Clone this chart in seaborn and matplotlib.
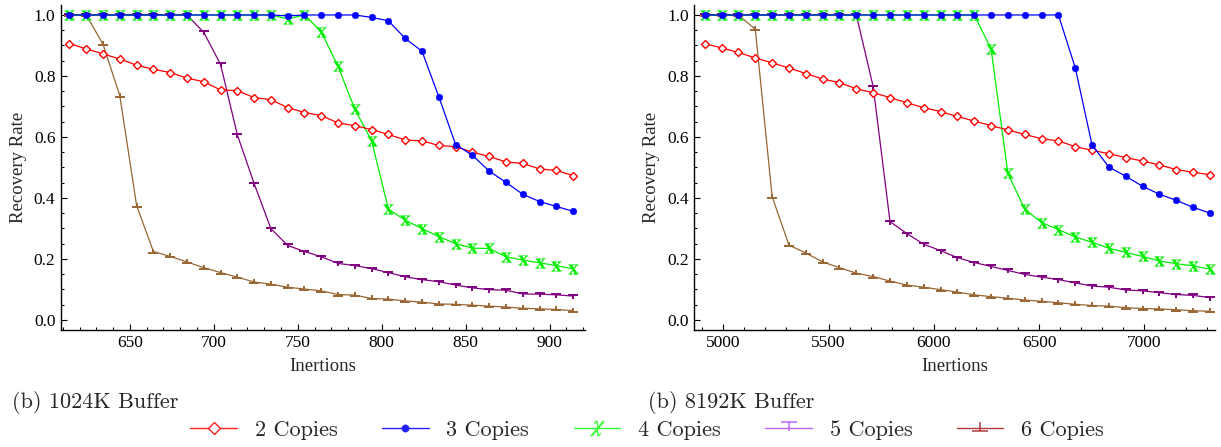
import matplotlib
matplotlib.use("Agg")
import matplotlib.pyplot as plt
from matplotlib.lines import Line2D
from matplotlib.path import Path
from matplotlib.ticker import MultipleLocator
import seaborn as sns

# x grids (insertions) for the two buffer sizes
x_1024 = [614, 624, 634, 644, 654, 664, 674, 684, 694, 704, 714, 724, 734, 744, 754, 764,
          774, 784, 794, 804, 814, 824, 834, 844, 854, 864, 874, 884, 894, 904, 914]
x_8192 = [4912, 4992, 5072, 5152, 5232, 5312, 5392, 5472, 5552, 5632, 5712, 5792, 5872,
          5952, 6032, 6112, 6192, 6272, 6352, 6432, 6512, 6592, 6672, 6752, 6832, 6912,
          6992, 7072, 7152, 7232, 7312]

# recovery rates, 1024K buffer
c2_1024 = [0.906, 0.889, 0.872, 0.856, 0.835, 0.822, 0.811, 0.793, 0.781, 0.754, 0.752,
           0.729, 0.722, 0.696, 0.680, 0.670, 0.646, 0.637, 0.624, 0.608, 0.590, 0.587,
           0.572, 0.568, 0.550, 0.536, 0.518, 0.513, 0.495, 0.490, 0.473]
c3_1024 = [1.0] * 13 + [0.997] + [1.0] * 4 + [0.992, 0.981, 0.923, 0.881, 0.732, 0.575,
                                              0.540, 0.488, 0.451, 0.412, 0.388, 0.372, 0.356]
c4_1024 = [1.0] * 13 + [0.987, 1.0, 0.945, 0.831, 0.691, 0.587, 0.363, 0.327, 0.299, 0.273,
                        0.250, 0.235, 0.234, 0.207, 0.196, 0.187, 0.178, 0.167]
c5_1024 = [1.0] * 8 + [0.943, 0.838, 0.607, 0.447, 0.299, 0.244, 0.224, 0.207, 0.185, 0.178,
                       0.168, 0.155, 0.141, 0.132, 0.125, 0.114, 0.105, 0.099, 0.097, 0.085,
                       0.084, 0.082, 0.078]
c6_1024 = [1.0, 1.0, 0.904, 0.735, 0.375, 0.224, 0.208, 0.190, 0.171, 0.155, 0.140, 0.124,
           0.117, 0.107, 0.101, 0.095, 0.083, 0.081, 0.070, 0.068, 0.062, 0.058, 0.052,
           0.051, 0.048, 0.045, 0.042, 0.038, 0.036, 0.034, 0.030]

# recovery rates, 8192K buffer
c2_8192 = [0.906, 0.892, 0.877, 0.859, 0.843, 0.826, 0.808, 0.790, 0.778, 0.758, 0.745,
           0.729, 0.712, 0.696, 0.683, 0.667, 0.652, 0.637, 0.623, 0.608, 0.594, 0.587,
           0.568, 0.556, 0.545, 0.532, 0.521, 0.508, 0.493, 0.484, 0.476]
c3_8192 = [1.0] * 22 + [0.827, 0.573, 0.501, 0.471, 0.438, 0.412, 0.392, 0.369, 0.350]
c4_8192 = [1.0] * 17 + [0.889, 0.480, 0.363, 0.319, 0.296, 0.272, 0.254, 0.235, 0.221,
                        0.208, 0.193, 0.184, 0.177, 0.166]
c5_8192 = [1.0] * 10 + [0.765, 0.322, 0.283, 0.248, 0.227, 0.204, 0.188, 0.175, 0.162,
                        0.149, 0.140, 0.132, 0.121, 0.111, 0.107, 0.098, 0.095, 0.089,
                        0.083, 0.080, 0.073]
c6_8192 = [1.0, 1.0, 1.0, 0.953, 0.404, 0.245, 0.219, 0.190, 0.171, 0.153, 0.142, 0.127,
           0.114, 0.107, 0.099, 0.091, 0.082, 0.076, 0.071, 0.065, 0.061, 0.056, 0.051,
           0.047, 0.045, 0.040, 0.037, 0.036, 0.033, 0.030, 0.028]

labels = ["2 Copies", "3 Copies", "4 Copies", "5 Copies", "6 Copies"]
captions = ["(b) 1024K Buffer", "(b) 8192K Buffer"]

sns.set_style("ticks")
plt.rcParams["font.family"] = ["Liberation Serif", "DejaVu Serif"]
plt.rcParams["mathtext.fontset"] = "stix"

MOVE, LINE = Path.MOVETO, Path.LINETO


def tee(bar_y, stem_y):
    # bar plus stem, drawn as strokes
    return Path([(-1, bar_y), (1, bar_y), (0, bar_y), (0, stem_y)], [MOVE, LINE, MOVE, LINE])


T_PLOT, BOT_PLOT = tee(0.15, -0.6), tee(-0.15, 0.6)
T_LEG, BOT_LEG = tee(0.85, -0.45), tee(-0.45, 0.85)

# label: (plot colour, legend colour, marker, size, kind)
styles = {
    "6 Copies": ("#996633", "#b03a3a", BOT_PLOT, 7.5, "stroke"),
    "5 Copies": ("#800080", "#b866ff", T_PLOT, 7.5, "stroke"),
    "4 Copies": ("#00ee00", "#33ff33", r"$\mathbf{X}$", 7, "glyph"),
    "2 Copies": ("#ff0000", "#ff2020", "D", 3.6, "hollow"),
    "3 Copies": ("#0000ff", "#2020ff", "o", 4.8, "glyph"),
}


def marker_kw(col, kind):
    if kind == "hollow":
        return dict(markerfacecolor="white", markeredgecolor=col, markeredgewidth=1.0)
    if kind == "stroke":
        return dict(markerfacecolor="none", markeredgecolor=col, markeredgewidth=1.4)
    return dict(markerfacecolor=col, markeredgecolor=col, markeredgewidth=0.3)


def draw_panel(ax, x, series, major, minor, xlim):
    for lab in ["6 Copies", "5 Copies", "4 Copies", "2 Copies", "3 Copies"]:
        col, _, mk, ms, kind = styles[lab]
        sns.lineplot(x=x, y=series[lab], ax=ax, color=col, lw=0.9, marker=mk,
                     markersize=ms, zorder=3, **marker_kw(col, kind))
    ax.set_xlim(*xlim)
    ax.set_ylim(-0.033, 1.033)
    ax.xaxis.set_major_locator(MultipleLocator(major))
    ax.xaxis.set_minor_locator(MultipleLocator(minor))
    ax.yaxis.set_major_locator(MultipleLocator(0.2))
    ax.yaxis.set_minor_locator(MultipleLocator(0.05))
    ax.tick_params(which="both", direction="in", colors="black", labelsize=12.5, width=0.8)
    ax.tick_params(which="major", length=4.5, pad=4)
    ax.tick_params(which="minor", length=2.5)
    ax.set_xlabel("Inertions", fontsize=13.5, labelpad=5)
    ax.set_ylabel("Recovery Rate", fontsize=13.5, labelpad=5)
    for side in ["left", "bottom"]:
        ax.spines[side].set_linewidth(1.0)
        ax.spines[side].set_color("black")
    sns.despine(ax=ax)


fig = plt.figure(figsize=(12.21, 4.47), dpi=100)
ax1 = fig.add_axes([0.050, 0.262, 0.429, 0.727])
ax2 = fig.add_axes([0.5686, 0.262, 0.4265, 0.727])

draw_panel(ax1, x_1024, dict(zip(labels, [c2_1024, c3_1024, c4_1024, c5_1024, c6_1024])),
           50, 10, (609, 921))
draw_panel(ax2, x_8192, dict(zip(labels, [c2_8192, c3_8192, c4_8192, c5_8192, c6_8192])),
           500, 100, (4862, 7336))

fig.text(0.0096, 0.100, captions[0], family="cmr10", fontsize=16, va="center")
fig.text(0.5304, 0.100, captions[1], family="cmr10", fontsize=16, va="center")

legend_marks = {"2 Copies": ("D", 6), "3 Copies": ("o", 5.3), "4 Copies": (r"$\chi$", 11),
                "5 Copies": (T_LEG, 11), "6 Copies": (BOT_LEG, 11)}
handles = []
for lab in labels:
    _, lcol, _, _, kind = styles[lab]
    mk, ms = legend_marks[lab]
    kw = marker_kw(lcol, kind)
    if kind == "stroke":
        kw["markeredgewidth"] = 1.1
    handles.append(Line2D([0], [0], color=lcol, lw=1.0, marker=mk, markersize=ms, **kw))
fig.legend(handles, labels, loc="center", bbox_to_anchor=(0.530, 0.038), ncol=5,
           frameon=False, prop={"family": "cmr10", "size": 16}, handlelength=2.1,
           handletextpad=0.8, columnspacing=2.0, borderpad=0)

fig.savefig("out.png", dpi=100)
